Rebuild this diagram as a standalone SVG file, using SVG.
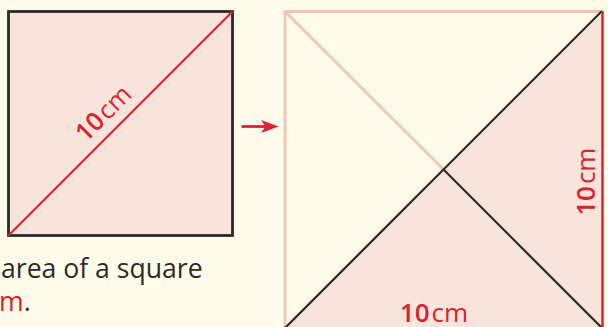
<svg xmlns="http://www.w3.org/2000/svg" width="608" height="327" viewBox="0 0 608 327">
<style>
text{font-family:"Open Sans","Liberation Sans",sans-serif}
.red{fill:#D7242F}
.dark{fill:#2B2A29}
.b{font-weight:600}
.lbl{font-size:26px}
</style>
<rect width="608" height="327" fill="#FFFBEA"/>
<g id="square-left">
<rect x="8.5" y="11.5" width="224" height="224" fill="#F9E4DC" stroke="#2B2A29" stroke-width="2.8"/>
<line x1="8.5" y1="235.5" x2="232.5" y2="11.5" stroke="#D7242F" stroke-width="2.2"/>
<text class="red" font-size="25.5" transform="translate(109.5,119.5) rotate(-45)" text-anchor="middle"><tspan class="b">10</tspan><tspan dx="2">cm</tspan></text>
</g>
<g id="caption">
<text class="dark" x="1" y="278" font-size="26.6">area of a square</text>
<text x="-1" y="310.5" font-size="26.6"><tspan class="red">m</tspan><tspan class="dark">.</tspan></text>
</g>
<g id="square-right">
<polygon points="285,328 443.5,169.5 602,328" fill="#F9E4DC"/>
<polygon points="602,11 443.5,169.5 602,328" fill="#F9E4DC"/>
<polyline points="285,328 285,11.5 602,11.5" fill="none" stroke="#F2C6B6" stroke-width="2.8"/>
<line x1="285" y1="11.5" x2="443.5" y2="169.5" stroke="#F2C6B6" stroke-width="2.8"/>
<line x1="285" y1="328" x2="602" y2="11" stroke="#2B2A29" stroke-width="2.2"/>
<line x1="443.5" y1="169.5" x2="602" y2="328" stroke="#2B2A29" stroke-width="2.2"/>
<line x1="602.5" y1="11" x2="602.5" y2="328" stroke="#D7242F" stroke-width="2.5"/>
<text class="red lbl" transform="translate(595,181.7) rotate(-90)" text-anchor="middle"><tspan class="b">10</tspan><tspan dx="2">cm</tspan></text>
<text class="red lbl" x="434" y="322" text-anchor="middle"><tspan class="b">10</tspan><tspan dx="2">cm</tspan></text>
</g>
<g id="connectors">
<line x1="241.5" y1="126.5" x2="268" y2="126.5" stroke="#D7242F" stroke-width="2.8"/>
<path d="M278.5,126.5 L261,120 L265.5,126.5 L261,133 Z" fill="#D7242F"/>
</g>
</svg>
